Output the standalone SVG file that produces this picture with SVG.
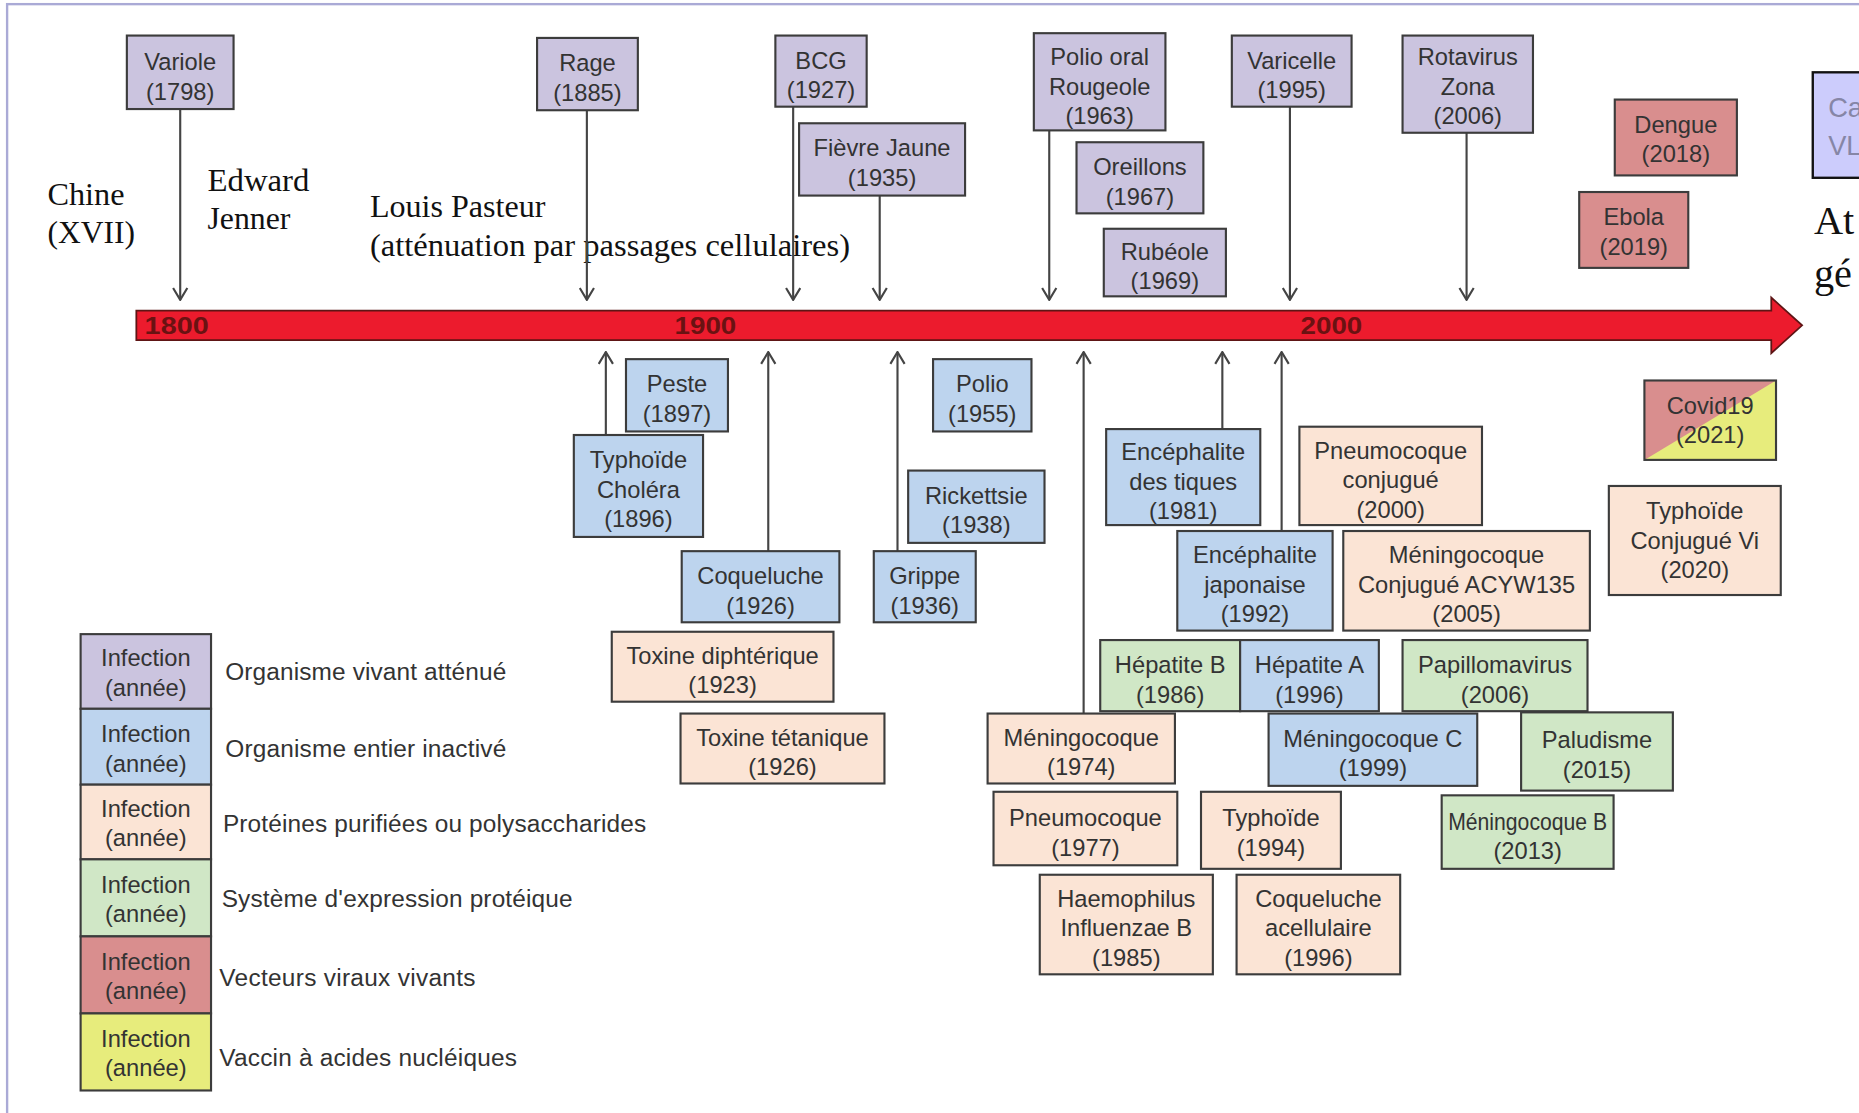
<svg xmlns="http://www.w3.org/2000/svg" width="1859" height="1113" viewBox="0 0 1859 1113">
<defs>
<style>
.p{fill:#cbc4df}.b{fill:#bdd4ee}.o{fill:#fbe4d5}.g{fill:#d0e7c6}.r{fill:#d98e8e}.y{fill:#e7ec7c}
.n rect,.bx{stroke:#3c3c3c;stroke-width:1.8}
.t{font-family:"Liberation Sans",Arial,sans-serif;font-size:20px;fill:#333;text-anchor:middle}
.lg{font-family:"Liberation Sans",Arial,sans-serif;font-size:20.6px;fill:#333}
.sf{font-family:"Liberation Serif","Times New Roman",serif;font-size:26px;fill:#111}
.yr{font-family:"Liberation Sans",Arial,sans-serif;font-size:20px;font-weight:bold;fill:#6a1212}
.c line{stroke:#444;stroke-width:1.8;fill:none;marker-end:url(#ah)}
</style>
<marker id="ah" markerUnits="userSpaceOnUse" viewBox="0 0 12 14" refX="11" refY="7" markerWidth="12" markerHeight="14" orient="auto">
<path d="M1,1 L11,7 L1,13" fill="none" stroke="#444" stroke-width="1.8"/>
</marker>
</defs>
<rect width="1859" height="1113" fill="#ffffff"/>
<g transform="scale(1.18559,1.1853)">
<rect x="6" y="3.5" width="1600" height="1000" fill="none" stroke="#aaaad6" stroke-width="2"/>

<!-- timeline bar -->
<g id="timeline">
<path d="M115,262 L1494,262 L1494,251 L1520,274.5 L1494,298 L1494,287 L115,287 Z" fill="#ec1b2d" stroke="#5e1515" stroke-width="1.5"/>
<text class="yr" x="122" y="281.5" textLength="54" lengthAdjust="spacingAndGlyphs">1800</text>
<text class="yr" x="569" y="281.5" textLength="52" lengthAdjust="spacingAndGlyphs">1900</text>
<text class="yr" x="1097" y="281.5" textLength="52" lengthAdjust="spacingAndGlyphs">2000</text>
</g>

<!-- annotations -->
<g id="annotations">
<text class="sf" x="40" y="173" textLength="65" lengthAdjust="spacingAndGlyphs">Chine</text>
<text class="sf" x="40" y="205" textLength="74" lengthAdjust="spacingAndGlyphs">(XVII)</text>
<text class="sf" x="175" y="161" textLength="86" lengthAdjust="spacingAndGlyphs">Edward</text>
<text class="sf" x="175" y="193" textLength="70" lengthAdjust="spacingAndGlyphs">Jenner</text>
<text class="sf" x="312" y="183" textLength="148" lengthAdjust="spacingAndGlyphs">Louis Pasteur</text>
<text class="sf" x="312" y="216" textLength="405" lengthAdjust="spacingAndGlyphs">(atténuation par passages cellulaires)</text>
<text class="sf" x="1530" y="197" style="font-size:34px">At</text>
<text class="sf" x="1530" y="242" style="font-size:34px">gé</text>
</g>

<!-- connectors -->
<g id="connectors" class="c">
<line x1="152" y1="92" x2="152" y2="253"/>
<line x1="495" y1="93" x2="495" y2="253"/>
<line x1="669" y1="90" x2="669" y2="253"/>
<line x1="742" y1="165" x2="742" y2="253"/>
<line x1="885" y1="110" x2="885" y2="253"/>
<line x1="1088" y1="90" x2="1088" y2="253"/>
<line x1="1237" y1="112" x2="1237" y2="253"/>
<line x1="511" y1="367" x2="511" y2="297"/>
<line x1="648" y1="465" x2="648" y2="297"/>
<line x1="757" y1="465" x2="757" y2="297"/>
<line x1="914" y1="602" x2="914" y2="297"/>
<line x1="1031" y1="362" x2="1031" y2="297"/>
<line x1="1081" y1="448" x2="1081" y2="297"/>
</g>

<!-- top nodes -->
<g id="variole" class="n"><rect class="p" x="107" y="30" width="90" height="62"/><text class="t"><tspan x="152" y="59">Variole</tspan><tspan x="152" y="84">(1798)</tspan></text></g>
<g id="rage" class="n"><rect class="p" x="453" y="32" width="85" height="61"/><text class="t"><tspan x="495.5" y="60">Rage</tspan><tspan x="495.5" y="85">(1885)</tspan></text></g>
<g id="bcg" class="n"><rect class="p" x="654" y="30" width="77" height="60"/><text class="t"><tspan x="692.5" y="58">BCG</tspan><tspan x="692.5" y="83">(1927)</tspan></text></g>
<g id="fievre-jaune" class="n"><rect class="p" x="674" y="104" width="140" height="61"/><text class="t"><tspan x="744" y="132">Fièvre Jaune</tspan><tspan x="744" y="157">(1935)</tspan></text></g>
<g id="polio-oral" class="n"><rect class="p" x="872" y="28" width="111" height="82"/><text class="t"><tspan x="927.5" y="55">Polio oral</tspan><tspan x="927.5" y="80">Rougeole</tspan><tspan x="927.5" y="105">(1963)</tspan></text></g>
<g id="oreillons" class="n"><rect class="p" x="908" y="120" width="107" height="60"/><text class="t"><tspan x="961.5" y="148">Oreillons</tspan><tspan x="961.5" y="173">(1967)</tspan></text></g>
<g id="rubeole" class="n"><rect class="p" x="931" y="193" width="103" height="57"/><text class="t"><tspan x="982.5" y="219">Rubéole</tspan><tspan x="982.5" y="244">(1969)</tspan></text></g>
<g id="varicelle" class="n"><rect class="p" x="1039" y="30" width="101" height="60"/><text class="t"><tspan x="1089.5" y="58">Varicelle</tspan><tspan x="1089.5" y="83">(1995)</tspan></text></g>
<g id="rotavirus" class="n"><rect class="p" x="1183" y="30" width="110" height="82"/><text class="t"><tspan x="1238" y="55">Rotavirus</tspan><tspan x="1238" y="80">Zona</tspan><tspan x="1238" y="105">(2006)</tspan></text></g>
<g id="dengue" class="n"><rect class="r" x="1362" y="84" width="103" height="64"/><text class="t"><tspan x="1413.5" y="112">Dengue</tspan><tspan x="1413.5" y="137">(2018)</tspan></text></g>
<g id="ebola" class="n"><rect class="r" x="1332" y="162" width="92" height="64"/><text class="t"><tspan x="1378" y="190">Ebola</tspan><tspan x="1378" y="215">(2019)</tspan></text></g>
<g id="partial-box"><rect x="1529" y="61" width="80" height="89" fill="#ccccfc" stroke="#111" stroke-width="2"/><text class="lg" x="1542" y="99" style="font-size:23px;fill:#8686a6">Ca</text><text class="lg" x="1542" y="131" style="font-size:23px;fill:#8686a6">VL</text></g>

<!-- bottom nodes -->
<g id="peste" class="n"><rect class="b" x="528" y="303" width="86" height="61"/><text class="t"><tspan x="571" y="331">Peste</tspan><tspan x="571" y="356">(1897)</tspan></text></g>
<g id="typhoide-cholera" class="n"><rect class="b" x="484" y="367" width="109" height="86"/><text class="t"><tspan x="538.5" y="395">Typhoïde</tspan><tspan x="538.5" y="420">Choléra</tspan><tspan x="538.5" y="445">(1896)</tspan></text></g>
<g id="coqueluche" class="n"><rect class="b" x="575" y="465" width="133" height="60"/><text class="t"><tspan x="641.5" y="493">Coqueluche</tspan><tspan x="641.5" y="518">(1926)</tspan></text></g>
<g id="toxine-diphterique" class="n"><rect class="o" x="516" y="533" width="187" height="59"/><text class="t"><tspan x="609.5" y="560">Toxine diphtérique</tspan><tspan x="609.5" y="585">(1923)</tspan></text></g>
<g id="toxine-tetanique" class="n"><rect class="o" x="574" y="602" width="172" height="59"/><text class="t"><tspan x="660" y="629">Toxine tétanique</tspan><tspan x="660" y="654">(1926)</tspan></text></g>
<g id="grippe" class="n"><rect class="b" x="737" y="465" width="86" height="60"/><text class="t"><tspan x="780" y="493">Grippe</tspan><tspan x="780" y="518">(1936)</tspan></text></g>
<g id="polio" class="n"><rect class="b" x="787" y="303" width="83" height="61"/><text class="t"><tspan x="828.5" y="331">Polio</tspan><tspan x="828.5" y="356">(1955)</tspan></text></g>
<g id="rickettsie" class="n"><rect class="b" x="766" y="397" width="115" height="61"/><text class="t"><tspan x="823.5" y="425">Rickettsie</tspan><tspan x="823.5" y="450">(1938)</tspan></text></g>
<g id="meningocoque-1974" class="n"><rect class="o" x="833" y="602" width="158" height="59"/><text class="t"><tspan x="912" y="629">Méningocoque</tspan><tspan x="912" y="654">(1974)</tspan></text></g>
<g id="pneumocoque-1977" class="n"><rect class="o" x="838" y="668" width="155" height="62"/><text class="t"><tspan x="915.5" y="697">Pneumocoque</tspan><tspan x="915.5" y="722">(1977)</tspan></text></g>
<g id="haemophilus" class="n"><rect class="o" x="877" y="738" width="146" height="84"/><text class="t"><tspan x="950" y="765">Haemophilus</tspan><tspan x="950" y="790">Influenzae B</tspan><tspan x="950" y="815">(1985)</tspan></text></g>
<g id="encephalite-tiques" class="n"><rect class="b" x="933" y="362" width="130" height="81"/><text class="t"><tspan x="998" y="388">Encéphalite</tspan><tspan x="998" y="413">des tiques</tspan><tspan x="998" y="438">(1981)</tspan></text></g>
<g id="encephalite-japonaise" class="n"><rect class="b" x="993" y="448" width="131" height="84"/><text class="t"><tspan x="1058.5" y="475">Encéphalite</tspan><tspan x="1058.5" y="500">japonaise</tspan><tspan x="1058.5" y="525">(1992)</tspan></text></g>
<g id="hepatite-b" class="n"><rect class="g" x="928" y="540" width="118" height="60"/><text class="t"><tspan x="987" y="568">Hépatite B</tspan><tspan x="987" y="593">(1986)</tspan></text></g>
<g id="hepatite-a" class="n"><rect class="b" x="1046" y="540" width="117" height="60"/><text class="t"><tspan x="1104.5" y="568">Hépatite A</tspan><tspan x="1104.5" y="593">(1996)</tspan></text></g>
<g id="pneumocoque-conjugue" class="n"><rect class="o" x="1096" y="360" width="154" height="83"/><text class="t"><tspan x="1173" y="387">Pneumocoque</tspan><tspan x="1173" y="412">conjugué</tspan><tspan x="1173" y="437">(2000)</tspan></text></g>
<g id="meningocoque-acyw" class="n"><rect class="o" x="1133" y="448" width="208" height="84"/><text class="t"><tspan x="1237" y="475">Méningocoque</tspan><tspan x="1237" y="500">Conjugué ACYW135</tspan><tspan x="1237" y="525">(2005)</tspan></text></g>
<g id="papillomavirus" class="n"><rect class="g" x="1183" y="540" width="156" height="60"/><text class="t"><tspan x="1261" y="568">Papillomavirus</tspan><tspan x="1261" y="593">(2006)</tspan></text></g>
<g id="meningocoque-c" class="n"><rect class="b" x="1070" y="602" width="176" height="61"/><text class="t"><tspan x="1158" y="630">Méningocoque C</tspan><tspan x="1158" y="655">(1999)</tspan></text></g>
<g id="paludisme" class="n"><rect class="g" x="1283" y="601" width="128" height="66"/><text class="t"><tspan x="1347" y="631">Paludisme</tspan><tspan x="1347" y="656">(2015)</tspan></text></g>
<g id="typhoide-1994" class="n"><rect class="o" x="1013" y="668" width="118" height="65"/><text class="t"><tspan x="1072" y="697">Typhoïde</tspan><tspan x="1072" y="722">(1994)</tspan></text></g>
<g id="meningocoque-b" class="n"><rect class="g" x="1216" y="671" width="145" height="62"/><text class="t"><tspan x="1288.5" y="700" textLength="134" lengthAdjust="spacingAndGlyphs">Méningocoque B</tspan><tspan x="1288.5" y="725">(2013)</tspan></text></g>
<g id="coqueluche-acellulaire" class="n"><rect class="o" x="1043" y="738" width="138" height="84"/><text class="t"><tspan x="1112" y="765">Coqueluche</tspan><tspan x="1112" y="790">acellulaire</tspan><tspan x="1112" y="815">(1996)</tspan></text></g>
<g id="covid19"><rect class="r" x="1387" y="321" width="111" height="67"/><polygon points="1387,388 1498,321 1498,388" fill="#e7ec7c"/><rect class="bx" x="1387" y="321" width="111" height="67" fill="none"/><text class="t"><tspan x="1442.5" y="349">Covid19</tspan><tspan x="1442.5" y="374">(2021)</tspan></text></g>
<g id="typhoide-conjugue" class="n"><rect class="o" x="1357" y="410" width="145" height="92"/><text class="t"><tspan x="1429.5" y="438">Typhoïde</tspan><tspan x="1429.5" y="463">Conjugué Vi</tspan><tspan x="1429.5" y="488">(2020)</tspan></text></g>

<!-- legend -->
<g id="legend">
<g class="n"><rect class="p" x="68" y="535" width="110" height="63"/><text class="t"><tspan x="123" y="562">Infection</tspan><tspan x="123" y="587">(année)</tspan></text></g>
<g class="n"><rect class="b" x="68" y="598" width="110" height="64"/><text class="t"><tspan x="123" y="626">Infection</tspan><tspan x="123" y="651">(année)</tspan></text></g>
<g class="n"><rect class="o" x="68" y="662" width="110" height="63"/><text class="t"><tspan x="123" y="689">Infection</tspan><tspan x="123" y="714">(année)</tspan></text></g>
<g class="n"><rect class="g" x="68" y="725" width="110" height="65"/><text class="t"><tspan x="123" y="753">Infection</tspan><tspan x="123" y="778">(année)</tspan></text></g>
<g class="n"><rect class="r" x="68" y="790" width="110" height="65"/><text class="t"><tspan x="123" y="818">Infection</tspan><tspan x="123" y="843">(année)</tspan></text></g>
<g class="n"><rect class="y" x="68" y="855" width="110" height="65"/><text class="t"><tspan x="123" y="883">Infection</tspan><tspan x="123" y="908">(année)</tspan></text></g>
<text class="lg" x="190" y="574" textLength="237">Organisme vivant atténué</text>
<text class="lg" x="190" y="639" textLength="237">Organisme entier inactivé</text>
<text class="lg" x="188" y="702" textLength="357">Protéines purifiées ou polysaccharides</text>
<text class="lg" x="187" y="765" textLength="296">Système d'expression protéique</text>
<text class="lg" x="185" y="832" textLength="216">Vecteurs viraux vivants</text>
<text class="lg" x="185" y="899" textLength="251">Vaccin à acides nucléiques</text>
</g>
</g>
</svg>
